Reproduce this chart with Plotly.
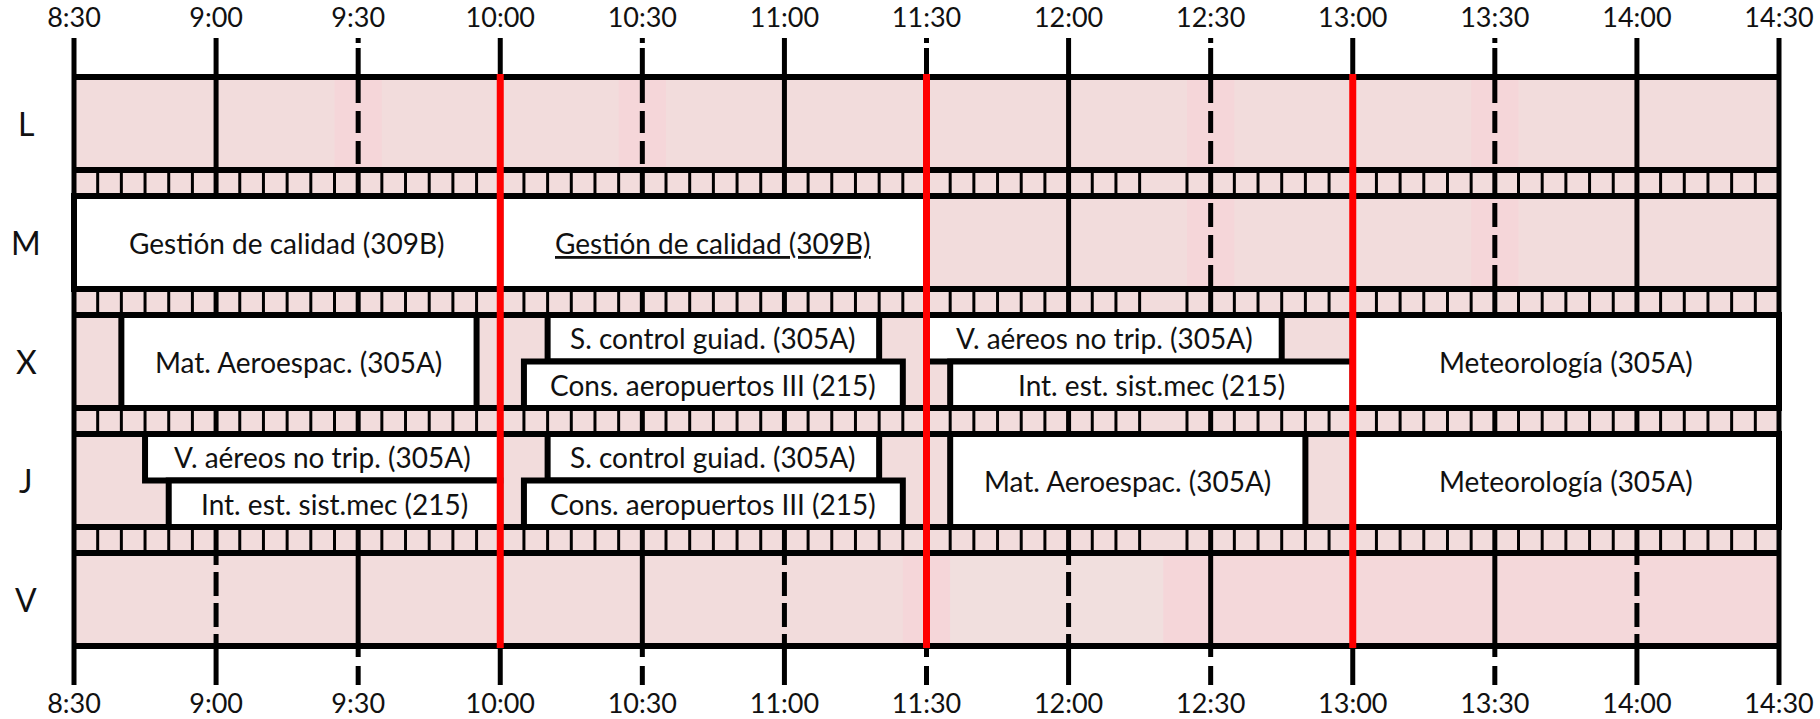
import plotly.graph_objects as go

# ---------------- data ----------------
days = ["L", "M", "X", "J", "V"]
tick_labels = ["8:30", "9:00", "9:30", "10:00", "10:30", "11:00", "11:30",
               "12:00", "12:30", "13:00", "13:30", "14:00", "14:30"]

class_day = ["M", "M", "X", "X", "X", "X", "X", "X",
             "J", "J", "J", "J", "J", "J"]
class_start = ["8:30", "10:00", "8:40", "10:10", "10:05", "11:30", "11:35", "13:00",
               "8:45", "8:50", "10:10", "10:05", "11:35", "13:00"]
class_end = ["10:00", "11:30", "9:55", "11:20", "11:25", "12:45", "13:00", "14:30",
             "10:00", "10:00", "11:20", "11:25", "12:50", "14:30"]
class_slot = ["full", "full", "full", "top", "bottom", "top", "bottom", "full",
              "top", "bottom", "top", "bottom", "full", "full"]
class_name = ["Gestión de calidad (309B)", "Gestión de calidad (309B)",
              "Mat. Aeroespac. (305A)", "S. control guiad. (305A)",
              "Cons. aeropuertos III (215)", "V. aéreos no trip. (305A)",
              "Int. est. sist.mec (215)", "Meteorología (305A)",
              "V. aéreos no trip. (305A)", "Int. est. sist.mec (215)",
              "S. control guiad. (305A)", "Cons. aeropuertos III (215)",
              "Mat. Aeroespac. (305A)", "Meteorología (305A)"]
class_underline = [False, True, False, False, False, False, False, False,
                   False, False, False, False, False, False]

red_marks = ["10:00", "11:30", "13:00"]

# style of the inner half-hour lines (9:00 .. 14:00) in each day row
row_line_style = {
    "L": ["solid", "dash", "red", "dash", "solid", "red", "solid", "dash", "red", "dash", "solid"],
    "M": ["solid", "dash", "red", "dash", "solid", "red", "solid", "dash", "red", "dash", "solid"],
    "X": [None] * 11,
    "J": [None] * 11,
    "V": ["dash", "solid", "red", "solid", "dash", "red", "dash", "solid", "red", "solid", "dash"],
}

shade_day = ["L", "L", "L", "L", "M", "M", "V", "V", "V", "V"]
shade_start = ["9:25", "10:25", "12:25", "13:25", "12:25", "13:25", "11:25", "11:35", "12:20", "12:30"]
shade_end = ["9:35", "10:35", "12:35", "13:35", "12:35", "13:35", "11:35", "12:20", "12:30", "14:30"]
shade_kind = ["patch", "patch", "patch", "patch", "patch", "patch", "patch", "light", "patch", "rose"]

missing_minor = ["12:20"]

# ---------------- styles / geometry ----------------
FONT = "Lato"
PINK = "#f2dcdc"
SHADE_COL = {"patch": "#f5d6d9", "light": "#f1dfde", "rose": "#f4d8da"}
ROW_TOP0, ROW_H, ROW_PERIOD = 77, 93, 119
AXIS_TOP, AXIS_BOT = 38, 685
DASH_ROW = {
    "L": "26px,8px,22px,8px,23px,8px,30px",
    "M": "3px,4px,24px,8px,23px,7px,30px",
    "V": "12px,7px,24px,7px,24px,7px,20px",
}
DASH_TOP = "5px,5px,40px"
DASH_BOT = "11px,9px,30px"


def tmin(s):
    h, m = s.split(":")
    return int(h) * 60 + int(m)


T0, T1 = tmin(tick_labels[0]), tmin(tick_labels[-1])
PAD = 14 / (1705 / 360)


def rtop(i):
    return ROW_TOP0 + i * ROW_PERIOD


def rbot(i):
    return rtop(i) + ROW_H


shapes = []


def rect(x0, x1, y0, y1, fill, lw=0, lc="black"):
    shapes.append(dict(type="rect", xref="x", yref="y", x0=x0, x1=x1, y0=y0, y1=y1,
                       fillcolor=fill, line=dict(width=lw, color=lc), layer="above"))


def vline(x, y0, y1, w, color="black", dash="solid"):
    shapes.append(dict(type="line", xref="x", yref="y", x0=x, x1=x, y0=y0, y1=y1,
                       line=dict(width=w, color=color, dash=dash), layer="above"))


def hline(x0, x1, y, w, color="black"):
    shapes.append(dict(type="line", xref="x", yref="y", x0=x0, x1=x1, y0=y, y1=y,
                       line=dict(width=w, color=color), layer="above"))


# backgrounds: rows and separators
for i, d in enumerate(days):
    rect(T0, T1, rtop(i), rbot(i), PINK)
    if i < len(days) - 1:
        rect(T0, T1, rbot(i), rtop(i + 1), PINK)

# shading patches
for d, s, e, k in zip(shade_day, shade_start, shade_end, shade_kind):
    i = days.index(d)
    rect(tmin(s), tmin(e), rtop(i), rbot(i), SHADE_COL[k])

# in-row grid lines
inner = tick_labels[1:-1]
for i, d in enumerate(days):
    for lab, st in zip(inner, row_line_style[d]):
        if st in ("solid", "dash"):
            vline(tmin(lab), rtop(i), rbot(i), 5, dash="solid" if st == "solid" else DASH_ROW[d])

# separator ticks every 5 minutes
miss = [tmin(m) for m in missing_minor]
for i in range(len(days) - 1):
    for t in range(T0 + 5, T1, 5):
        if t in miss:
            continue
        w = 5 if (t - T0) % 30 == 0 else 3
        vline(t, rbot(i), rtop(i + 1), w)

# top / bottom tick marks
for lab in inner:
    t = tmin(lab)
    hour = lab.endswith(":00")
    vline(t, AXIS_TOP, rtop(0), 5, dash="solid" if hour else DASH_TOP)
    vline(t, rbot(len(days) - 1), AXIS_BOT, 5, dash="solid" if hour else DASH_BOT)

# class boxes
for d, s, e, sl in zip(class_day, class_start, class_end, class_slot):
    i = days.index(d)
    mid = (rtop(i) + rbot(i)) / 2
    y0, y1 = {"full": (rtop(i), rbot(i)), "top": (rtop(i), mid), "bottom": (mid, rbot(i))}[sl]
    rect(tmin(s), tmin(e), y0, y1, "white", lw=6)

# horizontal borders
for i in range(len(days)):
    hline(T0, T1, rtop(i), 6)
    hline(T0, T1, rbot(i), 6)

# outer vertical axis lines
vline(T0, AXIS_TOP, AXIS_BOT, 5)
vline(T1, AXIS_TOP, AXIS_BOT, 5)

# red lines
for r in red_marks:
    vline(tmin(r), rtop(0) - 3, rbot(len(days) - 1) + 2, 7, color="#ff0000")

# annotations
annotations = []
for d, s, e, sl, name, u in zip(class_day, class_start, class_end, class_slot,
                                class_name, class_underline):
    i = days.index(d)
    mid = (rtop(i) + rbot(i)) / 2
    yc = {"full": mid, "top": (rtop(i) + mid) / 2, "bottom": (mid + rbot(i)) / 2}[sl]
    txt = f"<u>{name}</u>" if u else name
    annotations.append(dict(x=(tmin(s) + tmin(e)) / 2, y=yc, xref="x", yref="y",
                            text=txt, showarrow=False,
                            font=dict(family=FONT, size=28, color="#111111")))

for i, d in enumerate(days):
    annotations.append(dict(x=-0.0196, y=(rtop(i) + rbot(i)) / 2, xref="paper", yref="y",
                            text=d, showarrow=False, xanchor="center",
                            font=dict(family=FONT, size=32, color="#111111")))

tickvals = [tmin(t) for t in tick_labels]

fig = go.Figure()
fig.add_trace(go.Scatter(x=[T0], y=[AXIS_TOP], mode="markers", marker=dict(opacity=0),
                         hoverinfo="skip", showlegend=False))
fig.add_trace(go.Scatter(x=[T0], y=[AXIS_TOP], xaxis="x2", mode="markers",
                         marker=dict(opacity=0), hoverinfo="skip", showlegend=False))

axis_common = dict(range=[T0 - PAD, T1 + PAD], tickvals=tickvals, ticktext=tick_labels,
                   showgrid=False, zeroline=False, showline=False, ticks="",
                   automargin=False,
                   tickfont=dict(family=FONT, size=27, color="#111111"), fixedrange=True)

fig.update_layout(
    width=1820, height=719, autosize=False,
    margin=dict(l=60, r=27, t=33, b=34, pad=0),
    paper_bgcolor="white", plot_bgcolor="white",
    xaxis=dict(**axis_common, side="bottom"),
    xaxis2=dict(**axis_common, side="top", overlaying="x", matches="x"),
    yaxis=dict(range=[AXIS_BOT, AXIS_TOP - 5], showgrid=False, zeroline=False,
               showticklabels=False, fixedrange=True, automargin=False),
    shapes=shapes, annotations=annotations, showlegend=False,
)

fig.write_html("out.html", post_script="document.body.style.margin='0';",
               config={"displayModeBar": False})
